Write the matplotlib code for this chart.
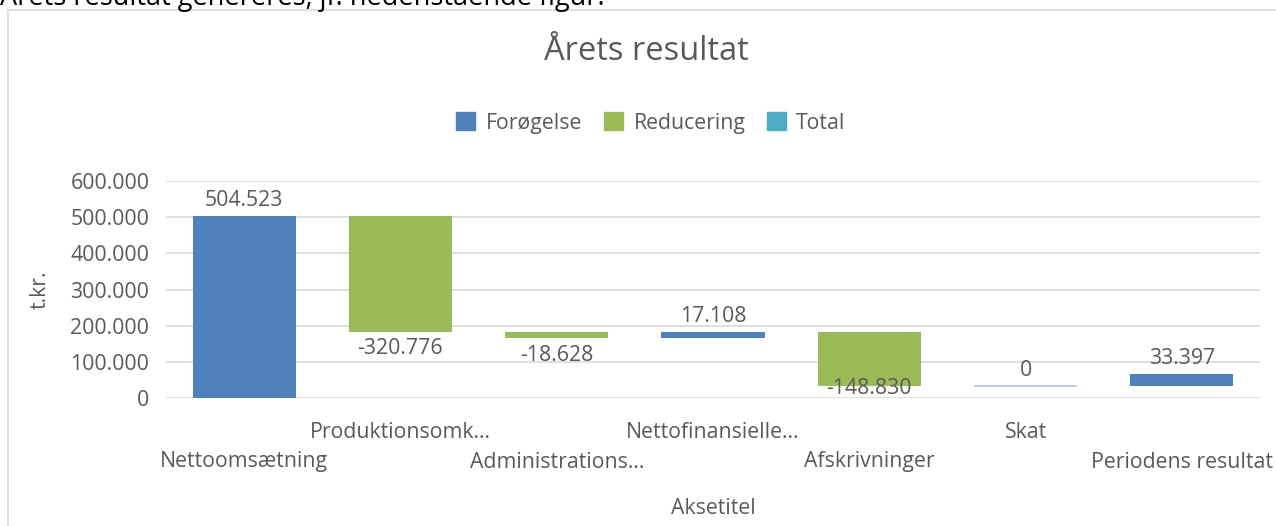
import matplotlib
matplotlib.use("Agg")
import matplotlib.pyplot as plt
from matplotlib.patches import Rectangle, Patch
from matplotlib.ticker import FuncFormatter

plt.rcParams['font.family'] = ['Open Sans', 'DejaVu Sans']

categories = ["Nettoomsætning", "Produktionsomk...", "Administrations...",
              "Nettofinansielle...", "Afskrivninger", "Skat", "Periodens resultat"]
values = [504523, -320776, -18628, 17108, -148830, 0, 33397]
yticks = [0, 100000, 200000, 300000, 400000, 500000, 600000]
title = "Årets resultat"
ylabel = "t.kr."
xlabel = "Aksetitel"
legend_labels = ["Forøgelse", "Reducering", "Total"]
intro_text = "Årets resultat genereres, jf. nedenstående figur."

C_UP = "#4F81BD"
C_DOWN = "#9BBB59"
C_TOTAL = "#4BACC6"
C_ZERO = "#A9C4E4"
GRAY = "#595959"
GRID = "#D9D9D9"
FS = 15.3

W, H = 1276, 526
fig = plt.figure(figsize=(W / 100, H / 100), dpi=100)

def fx(px):
    return px / W

def fy(py):
    return 1 - py / H

# chart border
fig.patches.append(Rectangle((fx(8), fy(H + 5)), fx(W + 10 - 8), fy(10) - fy(H + 5),
                             transform=fig.transFigure, fill=False,
                             edgecolor="#D9D9D9", lw=1.2))
# intro text cut off at top
fig.text(0, fy(5), intro_text, fontsize=19.5, color="black", ha="left", va="baseline")

ax = fig.add_axes([fx(166), fy(398), fx(1260 - 166), fy(181) - fy(398)])
ax.set_xlim(-0.5, len(categories) - 0.5)
ax.set_ylim(0, 600000)
ax.set_yticks(yticks)
ax.yaxis.set_major_formatter(FuncFormatter(lambda v, p: f"{int(v):,}".replace(",", ".")))
ax.grid(axis="y", color=GRID, lw=1.2)
ax.set_axisbelow(True)
for s in ax.spines.values():
    s.set_visible(False)
ax.tick_params(axis="both", length=0, colors=GRAY, labelsize=FS)
ax.tick_params(axis="y", pad=12)

def fmt(v):
    s = f"{abs(v):,}".replace(",", ".")
    return ("-" if v < 0 else "") + s

px_per_unit = (398 - 181) / 600000.0
running = 0
for i, v in enumerate(values):
    bottom = running if v >= 0 else running + v
    top = running + v if v >= 0 else running
    if v == 0:
        ax.hlines(running, i - 0.33, i + 0.33, color=C_ZERO, lw=1.2)
    else:
        ax.bar(i, abs(v), bottom=bottom, width=0.66,
               color=C_UP if v > 0 else C_DOWN, zorder=2)
    if v >= 0:
        ax.annotate(fmt(v), (i, top), xytext=(0, 11), textcoords="offset points",
                    ha="center", va="center", color=GRAY, fontsize=FS)
    else:
        bpx = bottom * px_per_unit
        off_px = min(17, bpx - 9)
        ax.annotate(fmt(v), (i, bottom), xytext=(0, -off_px * 0.72),
                    textcoords="offset points",
                    ha="center", va="center", color=GRAY, fontsize=FS)
    running += v

# staggered category labels
ax.set_xticks(range(len(categories)))
ax.set_xticklabels([])
for i, c in enumerate(categories):
    dy = -64 if i % 2 == 0 else -34
    ax.annotate(c, xy=(i, 0), xycoords=("data", "axes fraction"),
                xytext=(0, dy * 0.72), textcoords="offset points",
                ha="center", va="center", color=GRAY, fontsize=FS)

fig.text(fx(40), fy(290), ylabel, rotation=90, ha="center", va="center",
         color=GRAY, fontsize=FS)
fig.text(fx(713), fy(508), xlabel, ha="center", va="center", color=GRAY, fontsize=FS)
fig.text(fx(646), fy(52), title, ha="center", va="center", color=GRAY, fontsize=23.5)

handles = [Patch(color=C_UP), Patch(color=C_DOWN), Patch(color=C_TOTAL)]
fig.legend(handles, legend_labels, loc="center", bbox_to_anchor=(fx(651), fy(123)),
           ncol=3, frameon=False, fontsize=FS, labelcolor=GRAY,
           handlelength=0.9, handleheight=0.9, handletextpad=0.5, columnspacing=1.0)

fig.savefig("out.png", dpi=100)
